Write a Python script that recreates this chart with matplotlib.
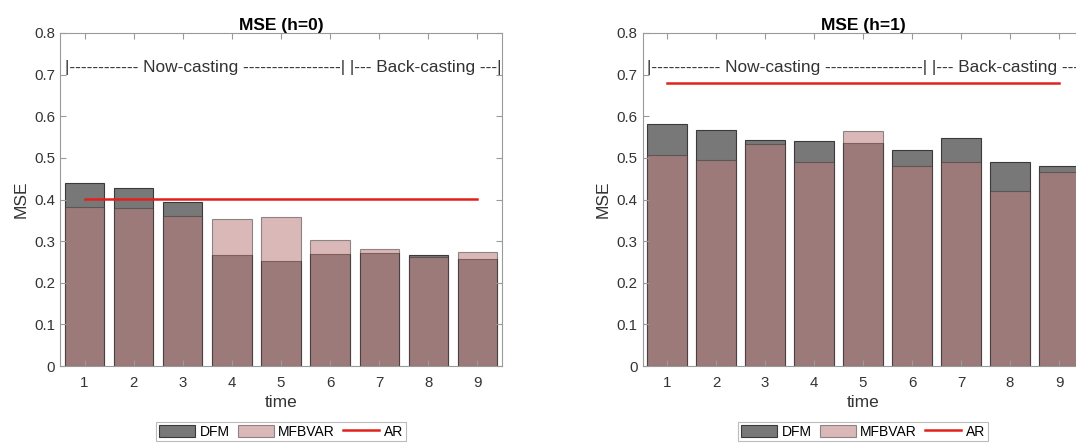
import numpy as np
import matplotlib
matplotlib.use('Agg')
import matplotlib.pyplot as plt

plt.rcParams['font.family'] = ['Liberation Sans', 'DejaVu Sans']

time = [1, 2, 3, 4, 5, 6, 7, 8, 9]

# h=0
dfm_h0 = [0.439, 0.427, 0.393, 0.266, 0.253, 0.269, 0.271, 0.267, 0.258]
mfbvar_h0 = [0.381, 0.379, 0.361, 0.353, 0.357, 0.302, 0.280, 0.261, 0.274]
ar_h0 = 0.401

# h=1
dfm_h1 = [0.582, 0.567, 0.543, 0.540, 0.535, 0.520, 0.547, 0.489, 0.481]
mfbvar_h1 = [0.506, 0.495, 0.534, 0.491, 0.564, 0.481, 0.489, 0.421, 0.465]
ar_h1 = 0.680

yticks = [0, 0.1, 0.2, 0.3, 0.4, 0.5, 0.6, 0.7, 0.8]
phase_text = '|------------ Now-casting -----------------| |--- Back-casting ---|'

dfm_col = (120/255, 120/255, 120/255)
mfb_col = (190/255, 125/255, 125/255)
edge_col = '#3a3a3a'
spine_col = '#9a9a9a'
text_col = '#333333'

fig = plt.figure(figsize=(10.76, 4.43), dpi=100)
ax1 = fig.add_axes([60/1076, 77/443, 442/1076, 333/443])
# right panel runs past the figure edge
ax2 = fig.add_axes([642.5/1076, 77/443, 441/1076, 333/443])


def panel(ax, dfm, mfb, ar, title):
    b1 = ax.bar(time, dfm, width=0.8, color=dfm_col, edgecolor=edge_col,
                linewidth=0.8, label='DFM')
    b2 = ax.bar(time, mfb, width=0.8, color=mfb_col, alpha=0.54,
                edgecolor=edge_col, linewidth=0.8, label='MFBVAR')
    l1, = ax.plot([time[0], time[-1]], [ar, ar], color='#e3211c', lw=1.8, label='AR')
    ax.set_xlim(0.5, 9.5)
    ax.set_ylim(0, 0.8)
    ax.set_xticks(time)
    ax.set_yticks(yticks)
    ax.set_yticklabels(['0', '0.1', '0.2', '0.3', '0.4', '0.5', '0.6', '0.7', '0.8'])
    ax.tick_params(direction='in', top=True, right=True, length=4,
                   color=spine_col, labelcolor=text_col, labelsize=10.8, width=0.8)
    ax.tick_params(axis='x', pad=7)
    for s in ax.spines.values():
        s.set_color(spine_col)
        s.set_linewidth(0.8)
    ax.set_title(title, fontsize=12.5, fontweight='bold', color='black', pad=2)
    ax.set_xlabel('time', fontsize=12.5, color=text_col, labelpad=4)
    ax.set_ylabel('MSE', fontsize=12.5, color=text_col, labelpad=4)
    ax.text(0.6, 0.718, phase_text, fontsize=12.4, color=text_col,
            ha='left', va='center')
    leg = ax.legend([b1, b2, l1], ['DFM', 'MFBVAR', 'AR'],
                    loc='upper center', bbox_to_anchor=(0.5, -0.168), ncol=3,
                    fontsize=10, frameon=True, fancybox=False, handlelength=2.6,
                    handleheight=1.0, handletextpad=0.3, columnspacing=0.6,
                    borderpad=0.2, borderaxespad=0)
    leg.get_frame().set_edgecolor('#aaaaaa')
    leg.get_frame().set_linewidth(0.8)


panel(ax1, dfm_h0, mfbvar_h0, ar_h0, 'MSE (h=0)')
panel(ax2, dfm_h1, mfbvar_h1, ar_h1, 'MSE (h=1)')

fig.savefig('out.png', dpi=100)
